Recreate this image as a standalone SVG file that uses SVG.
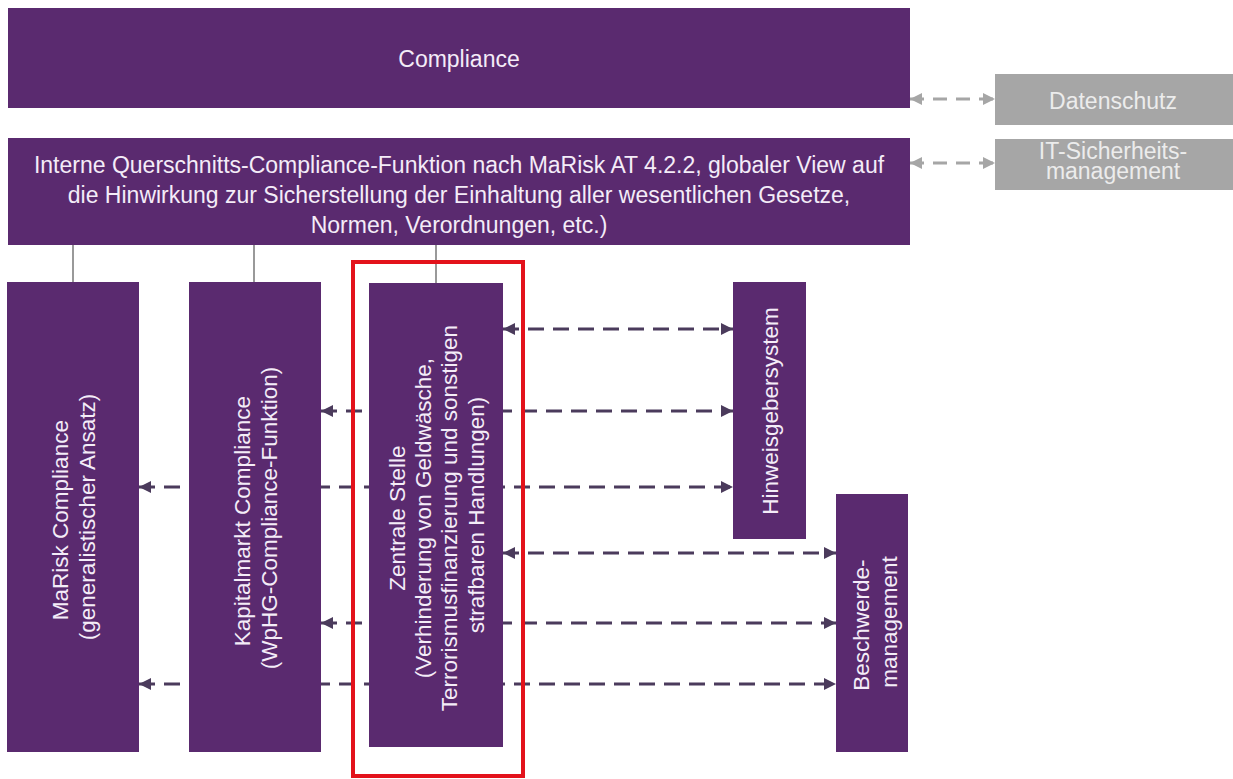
<svg xmlns="http://www.w3.org/2000/svg" width="1233" height="779" viewBox="0 0 1233 779">
  <defs>
    <style>
      .box { fill: #5a2a6f; }
      .ext { fill: #a6a6a6; }
      .lbl { font-family: "Liberation Sans", Arial, sans-serif; font-size: 23px; fill: #f4ecf8; text-anchor: middle; }
      .vlbl { font-family: "Liberation Sans", Arial, sans-serif; font-size: 22.5px; fill: #f4ecf8; text-anchor: middle; }
      .glbl { font-family: "Liberation Sans", Arial, sans-serif; font-size: 23px; fill: #ececec; text-anchor: middle; }
      .tie { stroke: #555555; stroke-width: 1.2; fill: none; }
      .flow { stroke: #4b3b5c; stroke-width: 3; stroke-dasharray: 16 9; fill: none; marker-start: url(#headDark); marker-end: url(#headDark); }
      .gflow { stroke: #a6a6a6; stroke-width: 3; stroke-dasharray: 14 9; fill: none; marker-start: url(#headGray); marker-end: url(#headGray); }
      .focus { fill: none; stroke: #e3121b; stroke-width: 4; }
    </style>
    <marker id="headDark" viewBox="0 0 12 12" refX="12" refY="6" markerWidth="12" markerHeight="12" markerUnits="userSpaceOnUse" orient="auto-start-reverse">
      <path d="M0,0 L12,6 L0,12 Z" fill="#4b3b5c"/>
    </marker>
    <marker id="headGray" viewBox="0 0 12 12" refX="12" refY="6" markerWidth="12" markerHeight="12" markerUnits="userSpaceOnUse" orient="auto-start-reverse">
      <path d="M0,0 L12,6 L0,12 Z" fill="#a6a6a6"/>
    </marker>
  </defs>

  <rect width="1233" height="779" fill="#ffffff"/>

  <!-- connectors: tree lines and dashed exchange arrows -->
  <g id="connectors">
    <line class="tie" x1="73" y1="245" x2="73" y2="282"/>
    <line class="tie" x1="254" y1="245" x2="254" y2="282"/>
    <line class="tie" x1="436" y1="245" x2="436" y2="283"/>

    <line class="gflow" x1="910" y1="99" x2="995" y2="99"/>
    <line class="gflow" x1="910" y1="163" x2="995" y2="163"/>

    <line class="flow" x1="503" y1="329" x2="733" y2="329"/>
    <line class="flow" x1="321" y1="411" x2="733" y2="411"/>
    <line class="flow" x1="139" y1="487" x2="733" y2="487"/>
    <line class="flow" x1="503" y1="553" x2="836" y2="553"/>
    <line class="flow" x1="321" y1="623" x2="836" y2="623"/>
    <line class="flow" x1="139" y1="684" x2="836" y2="684"/>
  </g>

  <g id="compliance">
    <rect class="box" x="8" y="8" width="902" height="100"/>
    <text class="lbl" x="459" y="67">Compliance</text>
  </g>

  <g id="querschnitt">
    <rect class="box" x="8" y="138" width="902" height="107"/>
    <text class="lbl" x="459" y="173">Interne Querschnitts-Compliance-Funktion nach MaRisk AT 4.2.2, globaler View auf</text>
    <text class="lbl" x="459" y="203">die Hinwirkung zur Sicherstellung der Einhaltung aller wesentlichen Gesetze,</text>
    <text class="lbl" x="459" y="233">Normen, Verordnungen, etc.)</text>
  </g>

  <g id="datenschutz">
    <rect class="ext" x="995" y="74" width="238" height="51"/>
    <text class="glbl" x="1113" y="109">Datenschutz</text>
  </g>

  <g id="it-sicherheit">
    <rect class="ext" x="995" y="139" width="238" height="51"/>
    <text class="glbl" x="1113" y="159">IT-Sicherheits-<tspan x="1113" dy="20">management</tspan></text>
  </g>

  <g id="marisk">
    <rect class="box" x="7" y="282" width="132" height="470"/>
    <text class="vlbl" transform="translate(73,517) rotate(-90)">
      <tspan x="0" y="-5">MaRisk Compliance</tspan>
      <tspan x="0" y="22">(generalistischer Ansatz)</tspan>
    </text>
  </g>

  <g id="kapitalmarkt">
    <rect class="box" x="189" y="282" width="132" height="470"/>
    <text class="vlbl" transform="translate(255,518) rotate(-90)">
      <tspan x="0" y="-5">Kapitalmarkt Compliance</tspan>
      <tspan x="0" y="22">(WpHG-Compliance-Funktion)</tspan>
    </text>
  </g>

  <g id="zentrale-stelle">
    <rect class="box" x="369" y="283" width="134" height="464"/>
    <text class="vlbl" transform="translate(436,515) rotate(-90)">
      <tspan x="0" y="-31">Zentrale Stelle</tspan>
      <tspan x="0" y="-5">(Verhinderung von Geldwäsche,</tspan>
      <tspan x="0" y="21">Terrorismusfinanzierung und sonstigen</tspan>
      <tspan x="0" y="48">strafbaren Handlungen)</tspan>
    </text>
    <rect class="focus" x="353" y="262" width="170" height="514"/>
  </g>

  <g id="hinweisgeber">
    <rect class="box" x="733" y="282" width="73" height="257"/>
    <text class="vlbl" transform="translate(770,411) rotate(-90)">
      <tspan x="0" y="8">Hinweisgebersystem</tspan>
    </text>
  </g>

  <g id="beschwerde">
    <rect class="box" x="836" y="494" width="72" height="258"/>
    <text class="vlbl" transform="translate(872,622) rotate(-90)">
      <tspan x="0" y="-3">Beschwerde-</tspan>
      <tspan x="0" y="25">management</tspan>
    </text>
  </g>
</svg>
